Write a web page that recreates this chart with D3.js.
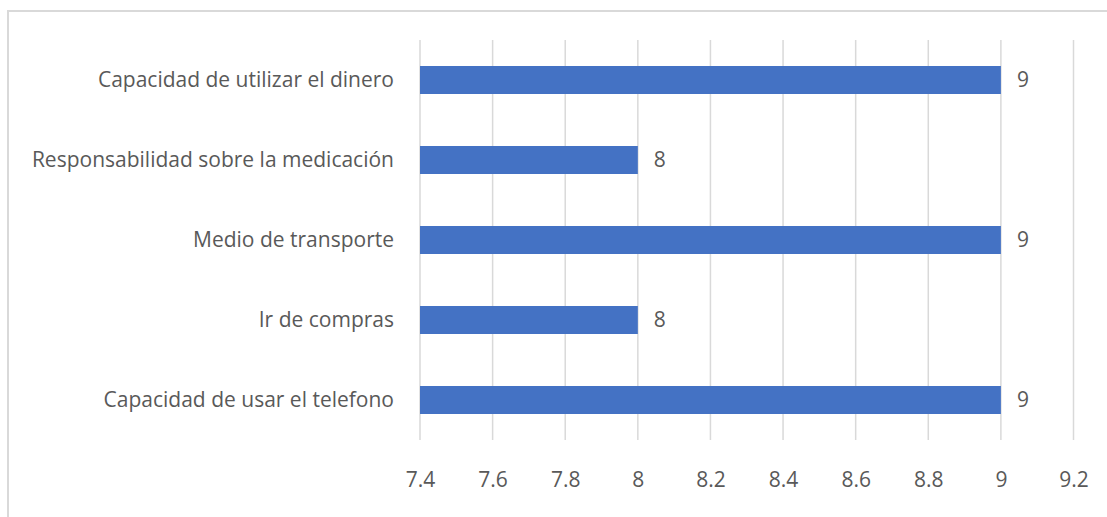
<!doctype html>
<html lang="es">

<head>
    <meta charset="utf-8">
    <title>Actividades instrumentales</title>
    <script src="https://unpkg.com/d3@7/dist/d3.min.js"></script>
    <style type="text/css">
        body {
            margin: 0;
            background-color: #ffffff;
        }

        #grafico text {
            font-family: "Open Sans", "Noto Sans", sans-serif;
            fill: #595959;
        }
    </style>
</head>

<body>
    <svg id="grafico" width="1107" height="517"></svg>

    <script>
        // datos del grafico (de arriba a abajo)
        var categorias = [
            "Capacidad de utilizar el dinero",
            "Responsabilidad sobre la medicación",
            "Medio de transporte",
            "Ir de compras",
            "Capacidad de usar el telefono"
        ];
        var valores = [9, 8, 9, 8, 9];
        var ticks = [7.4, 7.6, 7.8, 8, 8.2, 8.4, 8.6, 8.8, 9, 9.2];

        var svg = d3.select("#grafico");

        // marco exterior
        svg.append("rect")
            .attr("x", 8)
            .attr("y", 11)
            .attr("width", 1110)
            .attr("height", 520)
            .style("fill", "none")
            .style("stroke", "#d9d9d9")
            .style("stroke-width", 2);

        var x = d3.scaleLinear()
            .domain([7.4, 9.2])
            .range([420, 1073.5]);

        var y = d3.scaleBand()
            .domain(categorias)
            .range([40, 440])
            .paddingInner(0.65)
            .paddingOuter(0.325);

        // lineas verticales
        svg.append("g")
            .selectAll("line")
            .data(ticks)
            .enter().append("line")
            .attr("x1", function (d) { return x(d); })
            .attr("x2", function (d) { return x(d); })
            .attr("y1", 40)
            .attr("y2", 440)
            .style("stroke", "#d9d9d9")
            .style("stroke-width", 1.5);

        // eje x
        var ejeX = svg.append("g")
            .attr("transform", "translate(0,440)")
            .call(d3.axisBottom(x).tickValues(ticks).tickSize(0)
                .tickFormat(function (d) { return String(d); }));
        ejeX.select(".domain").remove();
        ejeX.selectAll("text")
            .style("font-size", "21px")
            .attr("dy", "0.35em")
            .attr("y", 40);

        // eje y (categorias)
        var ejeY = svg.append("g")
            .attr("transform", "translate(420,0)")
            .call(d3.axisLeft(y).tickSize(0).tickPadding(26));
        ejeY.select(".domain").remove();
        ejeY.selectAll("text")
            .style("font-size", "21px");

        // barras
        svg.append("g")
            .selectAll("rect")
            .data(valores)
            .enter().append("rect")
            .attr("x", x(7.4))
            .attr("y", function (d, i) { return y(categorias[i]); })
            .attr("width", function (d) { return x(d) - x(7.4); })
            .attr("height", y.bandwidth())
            .style("fill", "#4472c4");

        // etiquetas de valor
        svg.append("g")
            .selectAll("text")
            .data(valores)
            .enter().append("text")
            .attr("x", function (d) { return x(d) + 16; })
            .attr("y", function (d, i) { return y(categorias[i]) + y.bandwidth() / 2; })
            .attr("dy", "0.35em")
            .style("font-size", "21px")
            .text(function (d) { return d; });
    </script>
</body>

</html>
